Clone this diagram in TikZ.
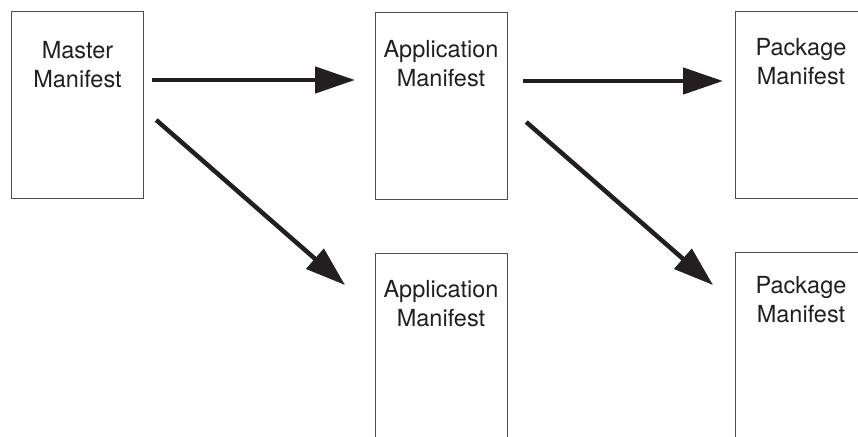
\documentclass[tikz,border=0pt]{standalone}
\usepackage{fontspec}
\setmainfont{TeX Gyre Heros}
\usetikzlibrary{arrows.meta}
\definecolor{ink}{HTML}{231F20}
\definecolor{frame}{HTML}{4D4D4D}
\begin{document}
\begin{tikzpicture}[x=1pt,y=-1pt,
  doc/.style={draw=frame,line width=1.2pt,minimum width=132pt,minimum height=187pt,anchor=north west,inner sep=0pt},
  lbl/.style={anchor=north,inner sep=0pt,align=center,text=ink,font=\fontsize{23.5}{29}\selectfont},
  arr/.style={draw=ink,line width=4.5pt,-{Triangle[length=40pt,width=26pt]}}]
\clip (0,0) rectangle (858,436);
\fill[white] (0,0) rectangle (858,436);
% boxes
\node[doc] (m)  at (11,11) {};
\node[doc] (a1) at (375,12) {};
\node[doc] (p1) at (735,11) {};
\node[doc,minimum height=200pt] (a2) at (375,253) {};
\node[doc,minimum height=200pt] (p2) at (735,252) {};
% labels
\node[lbl] (tm)  at (77.5,41) {Master\\Manifest};
\node[lbl] (ta1) at (441,40) {Application\\Manifest};
\node[lbl] (tp1) at (801,38) {Package\\Manifest};
\node[lbl] (ta2) at (441,280) {Application\\Manifest};
\node[lbl] (tp2) at (801,276) {Package\\Manifest};
% arrows
\draw[arr] ([xshift=8pt]m.east |- 0,80) -- ([xshift=-20pt]a1.west |- 0,80);
\draw[arr] ([xshift=12pt]m.east |- 0,120) -- ([shift={(-30pt,-32pt)}]a2.north west);
\draw[arr] ([xshift=15pt]a1.east |- 0,81) -- ([xshift=-12pt]p1.west |- 0,81);
\draw[arr] ([xshift=18pt]a1.east |- 0,122) -- ([shift={(-22pt,-33pt)}]p2.north west);
\end{tikzpicture}
\end{document}
